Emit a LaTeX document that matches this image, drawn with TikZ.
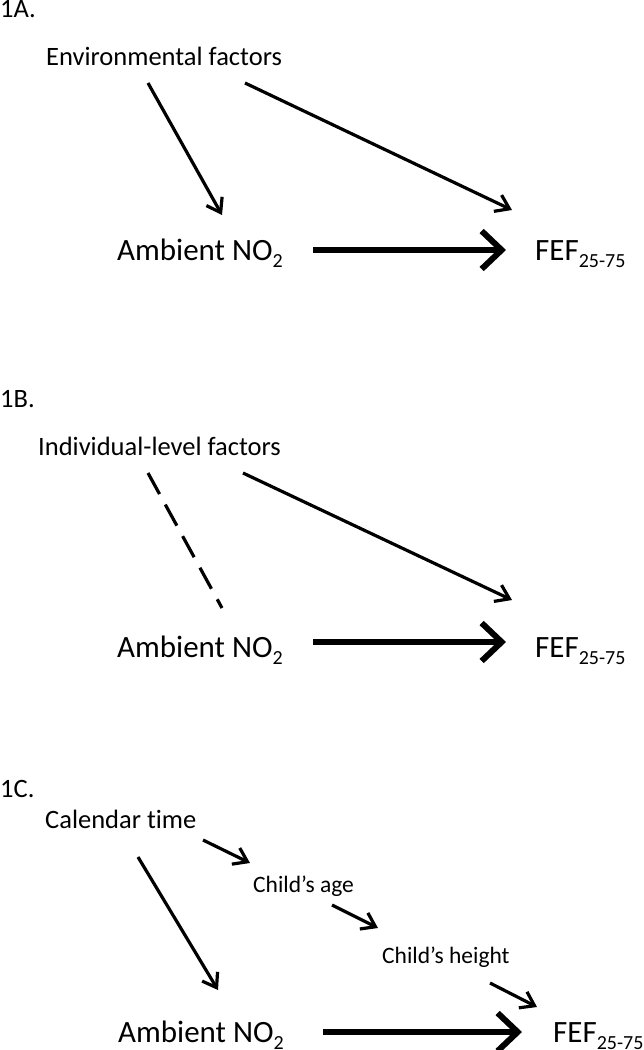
\documentclass[tikz,border=0pt]{standalone}
\usepackage{fontspec}
\setmainfont{Carlito}[Ligatures={NoCommon}]
\usetikzlibrary{arrows.meta}
\newcommand{\mysub}[1]{\raisebox{-7pt}{\fontsize{20}{22}\selectfont #1}}
\begin{document}
\begin{tikzpicture}[x=1pt,y=-1pt,
  lbl/.style={inner sep=0pt,anchor=base west,font=\fontsize{26.5}{30}\selectfont},
  big/.style={inner sep=0pt,anchor=base west,font=\fontsize{31}{34}\selectfont},
  small/.style={inner sep=0pt,anchor=base west,font=\fontsize{23.5}{27}\selectfont},
  thin/.style={line width=3.2pt,-{Straight Barb[length=13pt,width=18pt]}},
  thick/.style={line width=6pt,-{Straight Barb[length=20pt,width=38pt]}},
  dsh/.style={line width=3.2pt,dash pattern=on 24pt off 12pt}]
\useasboundingbox (0,0) rectangle (644,1050);
% ---- 1A
\node[lbl] (la) at (0,17) {1A.};
\node[lbl] (env) at (46,65) {Environmental factors};
\node[big] (amba) at (117,260) {Ambient NO\mysub{2}};
\node[big] (fefa) at (535,260) {FEF\mysub{25-75}};
\coordinate (a1s) at (148,83); \coordinate (a1e) at (222,215);
\coordinate (a2s) at (245,83); \coordinate (a2e) at (512,210);
\coordinate (a3s) at (313,250); \coordinate (a3e) at (506,250);
\draw[thin] (a1s) -- (a1e);
\draw[thin] (a2s) -- (a2e);
\draw[thick] (a3s) -- (a3e);
% ---- 1B
\node[lbl] (lb) at (0,407) {1B.};
\node[lbl] (ind) at (38,455) {Individual-level factors};
\node[big] (ambb) at (117,657) {Ambient NO\mysub{2}};
\node[big] (fefb) at (535,657) {FEF\mysub{25-75}};
\coordinate (b1s) at (148,473); \coordinate (b1e) at (222,608);
\coordinate (b2s) at (243,473); \coordinate (b2e) at (512,600);
\coordinate (b3s) at (313,642); \coordinate (b3e) at (506,642);
\draw[dsh] (b1s) -- (b1e);
\draw[thin] (b2s) -- (b2e);
\draw[thick] (b3s) -- (b3e);
% ---- 1C
\node[lbl] (lc) at (0,797) {1C.};
\node[lbl] (cal) at (45,828) {Calendar t\kern0pt ime};
\node[small] (age) at (253,892) {Child’s age};
\node[small] (hgt) at (382,963) {Child’s height};
\node[big] (ambc) at (118,1042) {Ambient NO\mysub{2}};
\node[big] (fefc) at (553,1042) {FEF\mysub{25-75}};
\coordinate (c1s) at (138,857); \coordinate (c1e) at (218,990);
\coordinate (c2s) at (203,840); \coordinate (c2e) at (250,863);
\coordinate (c3s) at (332,905); \coordinate (c3e) at (378,928);
\coordinate (c4s) at (490,983); \coordinate (c4e) at (537,1007);
\coordinate (c5s) at (323,1032); \coordinate (c5e) at (522,1032);
\draw[thin] (c1s) -- (c1e);
\draw[thin] (c2s) -- (c2e);
\draw[thin] (c3s) -- (c3e);
\draw[thin] (c4s) -- (c4e);
\draw[thick] (c5s) -- (c5e);
\end{tikzpicture}
\end{document}
